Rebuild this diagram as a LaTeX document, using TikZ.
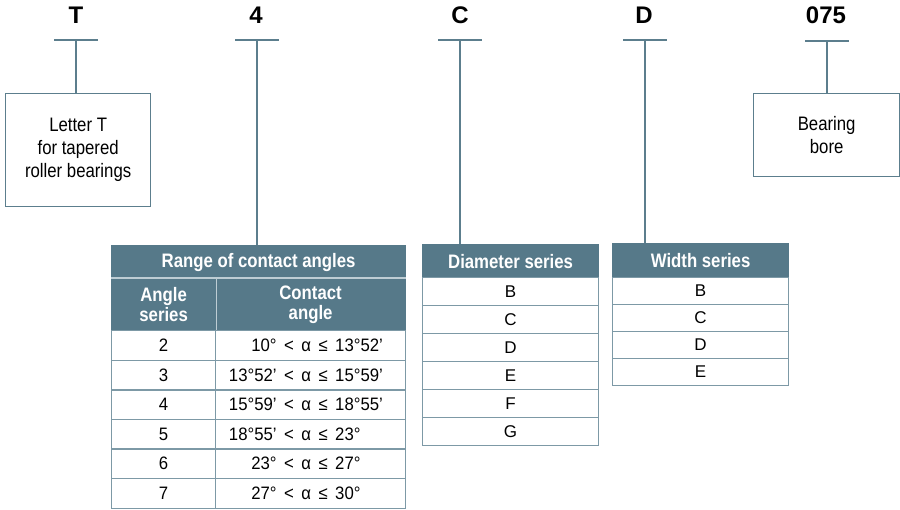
\documentclass[tikz,border=0pt]{standalone}
\usepackage{fontspec}
\setmainfont{Liberation Sans}
\newfontfamily\cf[FakeStretch=0.86]{Liberation Sans}
\newfontfamily\df[FakeStretch=0.93]{Liberation Sans}
\definecolor{lc}{RGB}{92,126,141}
\definecolor{hc}{RGB}{86,121,137}
\definecolor{bc}{RGB}{125,153,166}
\definecolor{sepc}{RGB}{190,205,212}
\tikzset{
 conn/.style={draw=lc,line width=1.3pt},
 sepline/.style={draw=sepc,line width=1.2pt},
 cell/.style={draw=bc,line width=1.2pt,rectangle,inner sep=0pt,anchor=north west,font=\df\fontsize{18}{20}\selectfont},
 hcell/.style={cell,draw=hc,fill=hc,text=white,font=\cf\bfseries\fontsize{19.5}{20}\selectfont,align=center},
 lcell/.style={cell,font=\fontsize{17}{20}\selectfont},
 topl/.style={font=\bfseries\fontsize{24}{26}\selectfont,inner sep=0pt},
 infobox/.style={draw=lc,line width=1.3pt,rectangle,anchor=north west,inner sep=0pt,align=center,font=\cf\fontsize{19.5}{23}\selectfont},
}
\begin{document}
\begin{tikzpicture}[x=1pt,y=-1pt]
\useasboundingbox (0,0) rectangle (900,509);
% top labels
\node[topl] (lT) at (76,15) {T};
\node[topl] (l4) at (256,15) {4};
\node[topl] (lC) at (460,15) {C};
\node[topl] (lD) at (644,15) {D};
\node[topl] (l075) at (826,15) {075};
% bar centres
\coordinate (tT) at (76,40);
\coordinate (t4) at (257,40);
\coordinate (tC) at (460,40);
\coordinate (tD) at (645,40);
\coordinate (t075) at (827,41);
\foreach \c in {tT,t4,tC,tD,t075}{
  \draw[conn] ([xshift=-22pt]\c) -- ([xshift=22pt]\c);
}
% info boxes
\node[infobox,minimum width=145pt,minimum height=113pt] (bT) at (5,93) {Letter T\\for tapered\\roller bearings};
\node[infobox,minimum width=146pt,minimum height=83pt] (b075) at (753,93) {Bearing\\bore};
% range table
\node[hcell,minimum width=294pt,minimum height=33pt] (hR) at (111,245) {Range of contact angles};
\node[hcell,minimum width=104pt,minimum height=52pt] (s1) at (111,278) {Angle\\[0pt]series};
\node[hcell,minimum width=190pt,minimum height=52pt] (s2) at (215,278) {Contact\\[0pt]angle};
\draw[sepline] (s1.north west) -- (s2.north east);
\draw[sepline] (s1.north east) -- (s1.south east);
\foreach \y/\s/\l/\r in {330/2/10°/13°52’,360/3/13°52’/15°59’,389/4/15°59’/18°55’,419/5/18°55’/23°,448/6/23°/27°,478/7/27°/30°}{
  \node[cell,minimum width=104pt,minimum height=30pt] (ra\s) at (111,\y) {\s};
  \node[cell,minimum width=190pt,minimum height=30pt,text width=164pt,inner xsep=13pt,align=left] (rb\s) at (215,\y)
    {\makebox[48pt][r]{\l}\hspace{7.5pt}<\hspace{7.5pt}α\hspace{7.5pt}≤\hspace{7.5pt}\r};
}
% diameter table
\node[hcell,minimum width=176pt,minimum height=33pt] (hD) at (422,244) {Diameter series};
\foreach \y/\s in {277/B,305/C,333/D,361/E,389/F,417/G}{
  \node[lcell,minimum width=176pt,minimum height=28pt] (d\s) at (422,\y) {\s};
}
% width table
\node[hcell,minimum width=176pt,minimum height=34pt] (hW) at (612,243) {Width series};
\foreach \y/\s in {277/B,304/C,331/D,358/E}{
  \node[lcell,minimum width=176pt,minimum height=27pt] (w\s) at (612,\y) {\s};
}
% stems
\draw[conn] (tT) -- (tT |- bT.north);
\draw[conn] (t4) -- (t4 |- hR.north);
\draw[conn] (tC) -- (tC |- hD.north);
\draw[conn] (tD) -- (tD |- hW.north);
\draw[conn] (t075) -- (t075 |- b075.north);
\end{tikzpicture}
\end{document}
